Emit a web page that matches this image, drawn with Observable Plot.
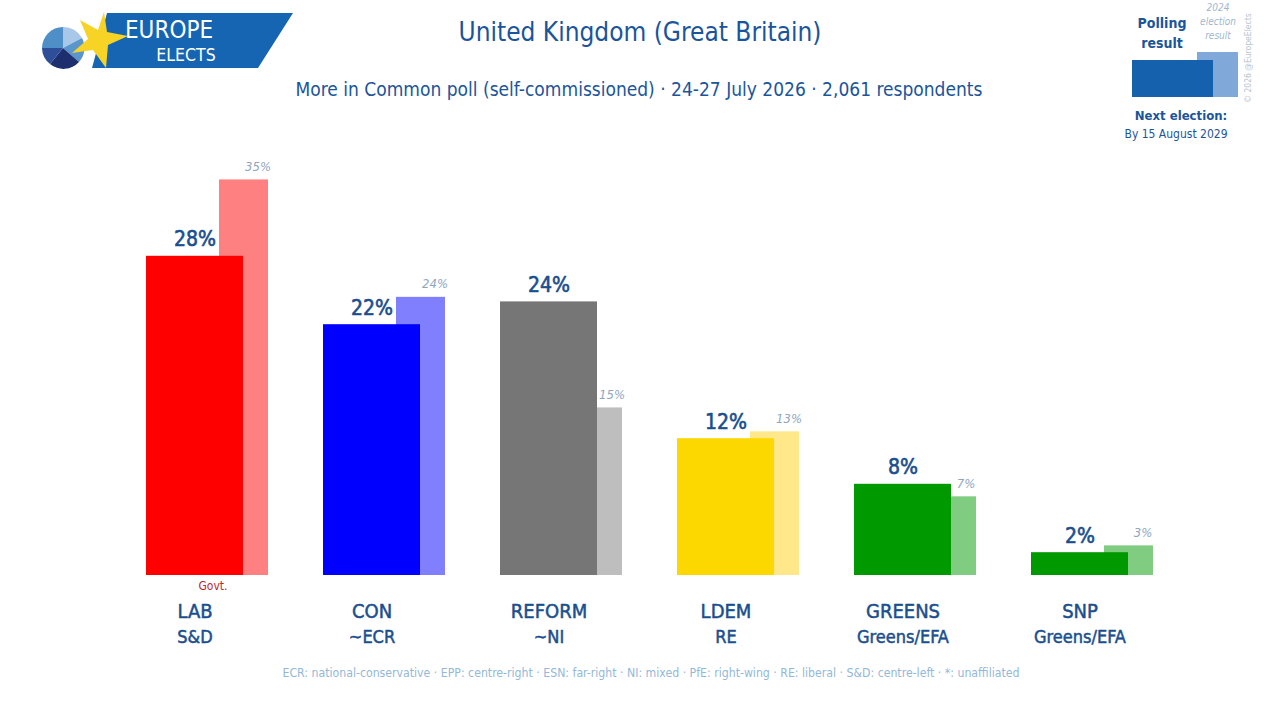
<!DOCTYPE html>
<html>
<head>
<meta charset="utf-8">
<script src="https://cdn.jsdelivr.net/npm/d3@7"></script>
<script src="https://cdn.jsdelivr.net/npm/@observablehq/plot@0.6"></script>
<style>
  html, body { margin: 0; padding: 0; background: #fff; width: 1280px; height: 720px; overflow: hidden; }
  body { position: relative; font-family: "DejaVu Sans Condensed", "DejaVu Sans", sans-serif; font-stretch: condensed; }
  #chart { position: absolute; left: 0; top: 0; }
  .abs { position: absolute; white-space: nowrap; }
  .title { left: 0; width: 1280px; top: 17px; text-align: center; font-size: 26px; color: #1a559c; }
  .subtitle { left: 0; width: 1278px; top: 78px; text-align: center; font-size: 19px; color: #1a559c; }
  .foot { left: 0; width: 1302px; top: 666px; text-align: center; font-size: 12.2px; color: #93b8d8; }
</style>
</head>
<body>
<div id="chart"></div>

<svg class="abs" style="left:0;top:0" width="320" height="90">
  <polygon points="107,13 293,13 258,68 92,68" fill="#1665b2"/>
  <g>
    <path d="M63,48 L63,27 A21,21 0 0 1 82,38 Z" fill="#a9c8e8"/>
    <path d="M63,48 L82,38 A21,21 0 0 1 79,62 Z" fill="#5a95cc"/>
    <path d="M63,48 L79,62 A21,21 0 0 1 50,64 Z" fill="#1d2f6e"/>
    <path d="M63,48 L50,64 A21,21 0 0 1 42,48 Z" fill="#2f4e9a"/>
    <path d="M63,48 L42,48 A21,21 0 0 1 63,27 Z" fill="#4f8fc8"/>
  </g>
  <polygon points="104,12 107,32 128,36 108,45 106,68 93,50 72,53 88,39 80,20 98,30" fill="#f7d325"/>
  <text x="169" y="38" text-anchor="middle" font-size="24" fill="#fff" font-family="DejaVu Sans Condensed" font-stretch="condensed">EUROPE</text>
  <text x="186" y="61" text-anchor="middle" font-size="17.5" fill="#fff" font-family="DejaVu Sans Condensed" font-stretch="condensed">ELECTS</text>
</svg>

<div class="abs title">United Kingdom (Great Britain)</div>
<div class="abs subtitle">More in Common poll (self-commissioned) · 24-27 July 2026 · 2,061 respondents</div>

<svg class="abs" style="left:1100px;top:0" width="180" height="150">
  <text x="118" y="11" text-anchor="middle" font-size="10" font-style="italic" fill="#9fb6cf">2024</text>
  <text x="118" y="25" text-anchor="middle" font-size="10" font-style="italic" fill="#9fb6cf">election</text>
  <text x="118" y="39" text-anchor="middle" font-size="10" font-style="italic" fill="#9fb6cf">result</text>
  <text x="62" y="28" text-anchor="middle" font-size="14" font-weight="bold" fill="#1a559c">Polling</text>
  <text x="62" y="48" text-anchor="middle" font-size="14" font-weight="bold" fill="#1a559c">result</text>
  <rect x="97" y="52" width="41" height="45" fill="#80a8d8"/>
  <rect x="32" y="60" width="81" height="37" fill="#1561ae"/>
  <text x="81" y="120" text-anchor="middle" font-size="13" font-weight="bold" fill="#1a559c">Next election:</text>
  <text x="76" y="138" text-anchor="middle" font-size="12" fill="#1a559c">By 15 August 2029</text>
  <text transform="translate(151,58) rotate(-90)" text-anchor="middle" font-size="8.5" fill="#b5c3d2">© 2026 @EuropeElects</text>
</svg>

<div class="abs foot">ECR: national-conservative · EPP: centre-right · ESN: far-right · NI: mixed · PfE: right-wing · RE: liberal · S&amp;D: centre-left · *: unaffiliated</div>

<script>
// ---- data ----
const parties = ["LAB", "CON", "REFORM", "LDEM", "GREENS", "SNP"];
const groups = ["S&D", "~ECR", "~NI", "RE", "Greens/EFA", "Greens/EFA"];
const poll = [28, 22, 24, 12, 8, 2];
const result2024 = [34.7, 24.4, 14.7, 12.6, 6.9, 2.6];
const pollColors = ["#ff0000", "#0000ff", "#767676", "#fdd700", "#009900", "#009900"];
const resultColors = ["#ff8080", "#8080ff", "#bebebe", "#fee88a", "#80cc80", "#80cc80"];
const govt = ["LAB"];

const data = parties.map((p, i) => ({
  party: p, group: groups[i], poll: poll[i], res: result2024[i],
  pc: pollColors[i], rc: resultColors[i]
}));

const FONT = '"DejaVu Sans Condensed", "DejaVu Sans", sans-serif';

const chart = Plot.plot({
  width: 1280,
  height: 720,
  marginLeft: 146,
  marginRight: 72,
  marginTop: 119,
  marginBottom: 145,
  style: { fontFamily: FONT, background: "transparent", overflow: "visible" },
  x: { type: "band", domain: parties, padding: 0, axis: null },
  y: { domain: [0, 40], axis: null },
  marks: [
    Plot.barY(data, { x: "party", y: "res", fill: "rc", insetLeft: 73, insetRight: 55 }),
    Plot.barY(data, { x: "party", y: "poll", fill: "pc", insetRight: 80 }),
    Plot.text(data, {
      x: "party", y: "poll", text: d => d.poll + "%", dx: -40, dy: -10,
      lineAnchor: "bottom", fontSize: 21, fill: "#1a4f8f", stroke: "#1a4f8f", strokeWidth: 0.6
    }),
    Plot.text(data, {
      x: "party", y: "res", text: d => Math.round(d.res) + "%", dx: 23, dy: -9,
      lineAnchor: "bottom", fontSize: 13, fill: "#8fa6bf", fontStyle: "italic"
    }),
    Plot.text(data.filter(d => govt.includes(d.party)), {
      x: "party", text: () => "Govt.", frameAnchor: "bottom", dx: -22, dy: 14,
      fontSize: 12, fill: "#c0272d"
    }),
    Plot.text(data, {
      x: "party", text: "party", frameAnchor: "bottom", dx: -40, dy: 42,
      fontSize: 20, fill: "#1a4f8f", stroke: "#1a4f8f", strokeWidth: 0.5
    }),
    Plot.text(data, {
      x: "party", text: "group", frameAnchor: "bottom", dx: -40, dy: 67,
      fontSize: 18, fill: "#1a4f8f", stroke: "#1a4f8f", strokeWidth: 0.5
    })
  ]
});
document.getElementById("chart").appendChild(chart);
</script>
</body>
</html>
